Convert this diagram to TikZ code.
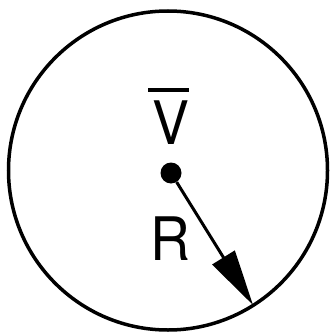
\documentclass[tikz,border=0pt]{standalone}
\usepackage{fontspec}
\setmainfont{TeX Gyre Heros}
\usetikzlibrary{arrows.meta}
\begin{document}
\begin{tikzpicture}[x=1pt,y=-1pt,
  lbl/.style={inner sep=0pt, font=\fontsize{60}{60}\selectfont, xscale=0.92},
  ring/.style={line width=3.5pt},
  radius arrow/.style={line width=3pt, -{Triangle[length=56pt,width=26pt]}},
  dotnode/.style={circle, fill=black, inner sep=0pt, minimum size=21pt}]
\useasboundingbox (0,0) rectangle (331,334);
\fill[white] (0,0) rectangle (331,334);
\draw[ring] (168,170.5) circle (159.5);
\node[dotnode] (c) at (171,173) {};
\coordinate (tip) at (253,305);
\draw[radius arrow] (c) -- (tip);
\node[lbl] (v) at (171,122.5) {V};
\draw[line width=3.5pt] (148,90) -- (189,90);
\node[lbl] (r) at (170.5,238.5) {R};
\end{tikzpicture}
\end{document}
